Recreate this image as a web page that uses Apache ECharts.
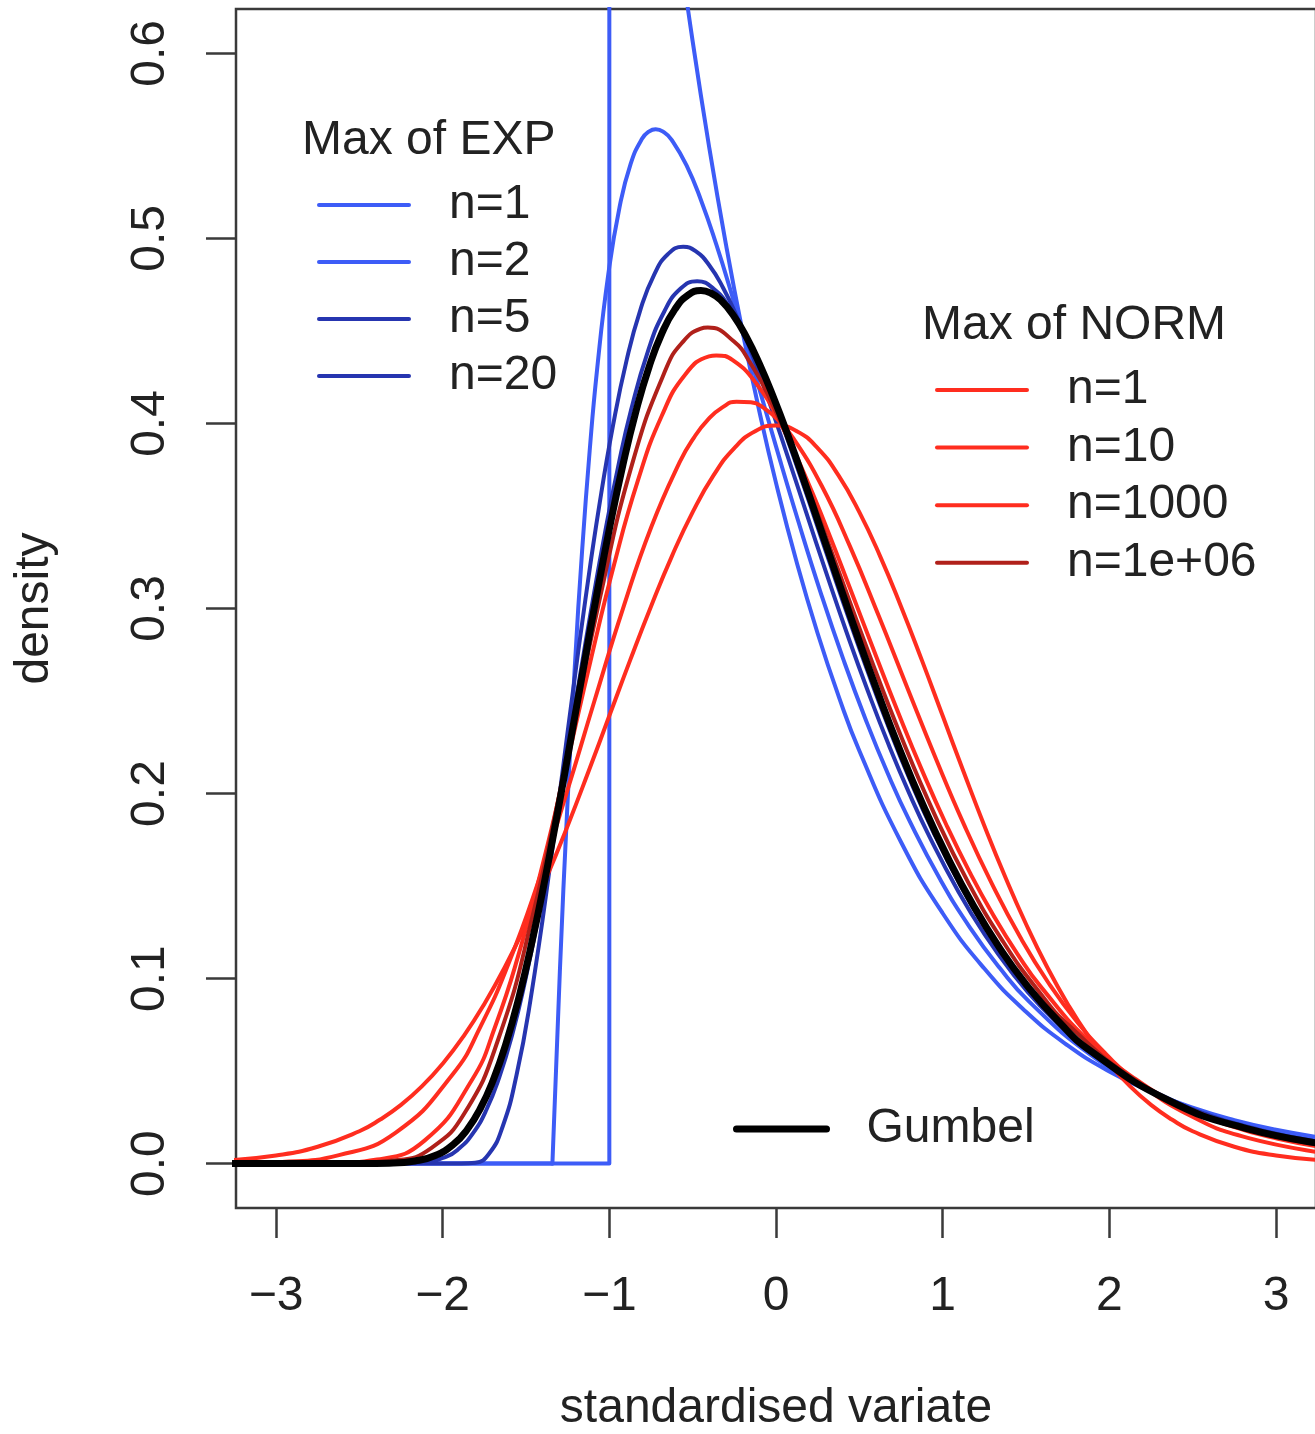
<!DOCTYPE html>
<html><head><meta charset="utf-8">
<script src="https://cdn.jsdelivr.net/npm/echarts@6/dist/echarts.min.js"></script>
<style>html,body{margin:0;padding:0;background:#fff}#c{width:1315px;height:1434px}</style>
</head><body><div id="c"></div>
<script>
// tick labels
const xTicks = [-3, -2, -1, 0, 1, 2, 3];
const yTicks = [0, 0.1, 0.2, 0.3, 0.4, 0.5, 0.6];

// Max of EXP (standardised densities) [z, density]
const expN1Base = [[-3.3, 0], [-1, 0], [-1, 1]];
const expN1 = [[-1,1],[-0.9,0.9048],[-0.8,0.8187],[-0.7,0.7408],[-0.6,0.6703],[-0.5,0.6065],[-0.4,0.5488],[-0.3,0.4966],[-0.2,0.4493],[-0.1,0.4066],[0,0.3679],[0.125,0.3247],[0.25,0.2865],[0.375,0.2528],[0.5,0.2231],[0.75,0.1738],[1,0.1353],[1.25,0.1054],[1.5,0.0821],[1.75,0.0639],[2,0.0498],[2.25,0.0388],[2.5,0.0302],[2.75,0.0235],[3,0.0183],[3.3,0.0136]];
const expN2Base = [[-3.3, 0], [-1.3416, 0]];
const expN2 = [[-1.3416,0],[-1.2969,0.1037],[-1.2522,0.1925],[-1.2075,0.2681],[-1.1628,0.3319],[-1.118,0.3852],[-1.0733,0.4293],[-1.0062,0.4806],[-0.9392,0.5167],[-0.8721,0.5403],[-0.805,0.5537],[-0.7603,0.5579],[-0.7218,0.559],[-0.6708,0.5573],[-0.6261,0.5533],[-0.5367,0.5395],[-0.4472,0.52],[-0.3578,0.4966],[-0.2683,0.4706],[-0.1342,0.4294],[0,0.3876],[0.1342,0.347],[0.2683,0.3085],[0.4025,0.2729],[0.5367,0.2403],[0.6708,0.2108],[0.805,0.1845],[0.9839,0.1538],[1.1628,0.1277],[1.3416,0.1058],[1.5205,0.0874],[1.8783,0.0594],[2.2361,0.0402],[2.6833,0.0246],[3.3094,0.0123]];
const expN5 = [[-3.3,0],[-1.8874,0],[-1.8047,0.0004],[-1.722,0.0053],[-1.6394,0.0202],[-1.5567,0.0479],[-1.4741,0.0879],[-1.3501,0.1648],[-1.2261,0.2499],[-1.1434,0.305],[-1.0608,0.3553],[-0.9781,0.3988],[-0.8955,0.4345],[-0.8128,0.4617],[-0.7301,0.4806],[-0.6475,0.4916],[-0.557,0.4955],[-0.4822,0.4931],[-0.3995,0.4854],[-0.3169,0.4732],[-0.2342,0.4576],[-0.1515,0.4393],[-0.0689,0.419],[0.0551,0.3863],[0.1791,0.3525],[0.3031,0.3188],[0.4271,0.2862],[0.5511,0.2554],[0.675,0.2266],[0.799,0.2002],[0.923,0.1763],[1.0883,0.148],[1.2537,0.1236],[1.419,0.1029],[1.5843,0.0854],[1.7909,0.0674],[1.9976,0.053],[2.2456,0.0397],[2.4935,0.0296],[2.9068,0.0181],[3.3201,0.011]];
const expN20 = [[-3.3,0],[-2.8477,0],[-2.3728,0],[-2.1353,0.0005],[-1.977,0.0038],[-1.8979,0.0084],[-1.8187,0.0163],[-1.7395,0.0287],[-1.6604,0.0466],[-1.5812,0.0702],[-1.5021,0.1],[-1.4229,0.1349],[-1.3438,0.174],[-1.2646,0.2158],[-1.1855,0.2586],[-1.1063,0.3007],[-1.0272,0.3404],[-0.948,0.3763],[-0.8689,0.4075],[-0.7699,0.4386],[-0.671,0.4604],[-0.5721,0.4729],[-0.4731,0.4768],[-0.3742,0.4728],[-0.2752,0.4622],[-0.1763,0.4462],[-0.0774,0.4261],[0.0216,0.403],[0.1205,0.3781],[0.2195,0.3521],[0.3184,0.3257],[0.4371,0.2945],[0.5559,0.2645],[0.6746,0.2361],[0.7933,0.2096],[0.9516,0.1777],[1.1099,0.1497],[1.2682,0.1255],[1.4265,0.1047],[1.6244,0.0831],[1.8223,0.0657],[2.0597,0.0493],[2.2972,0.0369],[2.8513,0.0186],[3.3262,0.0103]];

// Max of NORM
const normN1 = [[-3.3,0.0017],[-3,0.0044],[-2.75,0.0091],[-2.5,0.0175],[-2.375,0.0238],[-2.25,0.0317],[-2.125,0.0417],[-2,0.054],[-1.875,0.0688],[-1.75,0.0863],[-1.625,0.1065],[-1.5,0.1295],[-1.375,0.155],[-1.25,0.1826],[-1.125,0.2119],[-1,0.242],[-0.875,0.2721],[-0.75,0.3011],[-0.625,0.3282],[-0.5,0.3521],[-0.375,0.3719],[-0.25,0.3867],[-0.125,0.3958],[0,0.3989],[0.125,0.3958],[0.25,0.3867],[0.375,0.3719],[0.5,0.3521],[0.625,0.3282],[0.75,0.3011],[0.875,0.2721],[1,0.242],[1.125,0.2119],[1.25,0.1826],[1.375,0.155],[1.5,0.1295],[1.625,0.1065],[1.75,0.0863],[1.875,0.0688],[2,0.054],[2.125,0.0417],[2.25,0.0317],[2.375,0.0238],[2.5,0.0175],[2.75,0.0091],[3,0.0044],[3.3,0.0017]];
const normN10 = [[-3.3039,0.0001],[-2.9631,0.0009],[-2.6223,0.0046],[-2.2814,0.0168],[-1.9406,0.0482],[-1.7702,0.0746],[-1.5998,0.1092],[-1.4294,0.1514],[-1.259,0.1995],[-1.0886,0.2503],[-0.9181,0.2999],[-0.7477,0.3442],[-0.5773,0.3792],[-0.4921,0.3924],[-0.4069,0.4022],[-0.3217,0.4087],[-0.2365,0.4118],[-0.1513,0.4115],[-0.066,0.4079],[0.0192,0.4013],[0.1043,0.392],[0.2748,0.3662],[0.4452,0.3333],[0.6156,0.2962],[0.786,0.2576],[0.9564,0.2195],[1.1268,0.1835],[1.2973,0.1509],[1.4676,0.122],[1.6381,0.0972],[1.8085,0.0764],[1.9789,0.0593],[2.1493,0.0454],[2.4901,0.0257],[2.8309,0.0139],[3.3422,0.0051]];
const normN1000 = [[-3.389,0],[-2.9625,0],[-2.678,0.0002],[-2.3935,0.0022],[-2.109,0.0124],[-1.8245,0.0452],[-1.6822,0.0748],[-1.54,0.1144],[-1.3977,0.1624],[-1.2555,0.2161],[-1.1133,0.2715],[-0.971,0.3239],[-0.8288,0.3691],[-0.6865,0.4039],[-0.5443,0.4265],[-0.402,0.4363],[-0.3585,0.4368],[-0.2598,0.4342],[-0.1175,0.4215],[0.0248,0.4005],[0.167,0.3734],[0.3092,0.3423],[0.4515,0.3092],[0.5937,0.2758],[0.736,0.2431],[0.8782,0.2121],[1.0205,0.1834],[1.1627,0.1574],[1.305,0.1341],[1.447,0.1135],[1.5895,0.0955],[1.874,0.0665],[2.1585,0.0456],[2.443,0.0307],[2.7275,0.0204],[3.012,0.0134],[3.2966,0.0087]];
const normN1e6 = [[-3.3,0],[-3.0762,0],[-2.673,0],[-2.2698,0.0019],[-2.0665,0.0085],[-1.8665,0.0276],[-1.6649,0.0676],[-1.4633,0.1327],[-1.2617,0.2162],[-1.0601,0.3041],[-0.8585,0.3795],[-0.6569,0.4302],[-0.556,0.4444],[-0.4552,0.4511],[-0.4093,0.4518],[-0.2536,0.4444],[-0.1528,0.4325],[-0.052,0.4163],[0.1496,0.3746],[0.3512,0.3262],[0.5528,0.2768],[0.7544,0.23],[0.956,0.1878],[1.1577,0.1512],[1.3593,0.1204],[1.5609,0.0949],[1.7625,0.0742],[2.1657,0.0446],[2.569,0.0262],[2.9722,0.0152],[3.3754,0.0087]];

// Gumbel
const gumbel = [[-3.335,0],[-2.4773,0],[-2.3213,0.0002],[-2.1654,0.0014],[-2.0484,0.0042],[-1.9315,0.0107],[-1.8535,0.0183],[-1.7755,0.0295],[-1.6976,0.0449],[-1.6196,0.065],[-1.5416,0.0901],[-1.4637,0.12],[-1.3857,0.1539],[-1.3077,0.191],[-1.2298,0.2301],[-1.1518,0.2696],[-1.0738,0.3083],[-0.9958,0.3448],[-0.9179,0.3779],[-0.8399,0.4067],[-0.7619,0.4305],[-0.684,0.4489],[-0.606,0.4618],[-0.528,0.4694],[-0.4501,0.4718],[-0.3916,0.4705],[-0.3331,0.4668],[-0.2551,0.4584],[-0.1772,0.4467],[-0.0992,0.4322],[-0.0212,0.4155],[0.0762,0.3925],[0.1737,0.3677],[0.2712,0.3421],[0.3686,0.3163],[0.4856,0.2858],[0.6025,0.2566],[0.739,0.2245],[0.8754,0.1952],[1.0314,0.1652],[1.1873,0.1389],[1.3433,0.1163],[1.4992,0.097],[1.6941,0.0769],[1.889,0.0608],[2.3569,0.0341],[2.8247,0.0189],[3.3705,0.0095]];

const FONT = '"Liberation Sans", Arial, Helvetica, sans-serif';
const TXT = '#222';
const BLUE = '#3d5cf7', NAVY = '#2635b0', RED = '#ff2d1f', DARKRED = '#b0201a';
const LW = 4;
const FS = 48;

function line(name, data, color, width, smooth) {
  return { type: 'line', name: name, data: data, smooth: smooth, smoothConstraint: false, symbol: 'none', showSymbol: false,
    lineStyle: { color: color, width: width, join: 'round', cap: 'round' }, itemStyle: { color: color }, clip: true, silent: true };
}

const legendCommon = {
  orient: 'vertical', itemWidth: 90, itemHeight: 46, itemGap: 9, padding: 0, selectedMode: false,
  itemStyle: { opacity: 0 },
  lineStyle: { width: LW },
  textStyle: { fontSize: FS, fontFamily: FONT, color: TXT, padding: [0, 0, 0, 35] },
  formatter: function (n) { return n.replace(/^\S+\s/, ''); }
};

const chart = echarts.init(document.getElementById('c'), null, { renderer: 'canvas' });
chart.setOption({
  animation: false,
  backgroundColor: '#fff',
  textStyle: { fontFamily: FONT },
  title: [
    { text: 'Max of EXP', left: 302, top: 117, padding: 0, textStyle: { fontSize: FS, fontWeight: 'normal', color: TXT, fontFamily: FONT } },
    { text: 'Max of NORM', left: 922, top: 302, padding: 0, textStyle: { fontSize: FS, fontWeight: 'normal', color: TXT, fontFamily: FONT } }
  ],
  legend: [
    Object.assign({}, legendCommon, { data: ['EXP n=1', 'EXP n=2', 'EXP n=5', 'EXP n=20'], left: 317, top: 181 }),
    Object.assign({}, legendCommon, { data: ['NORM n=1', 'NORM n=10', 'NORM n=1000', 'NORM n=1e+06'], left: 935, top: 366, itemGap: 9.6 }),
    Object.assign({}, legendCommon, { data: ['Gumbel'], left: 733, top: 1105, lineStyle: { width: 7 } })
  ],
  grid: { left: 236, top: 9, width: 1080, height: 1199, show: true, borderColor: '#3a3a3a', borderWidth: 2.5,
    containLabel: false, outerBoundsMode: 'none' },
  xAxis: {
    type: 'value', min: -3.24, max: 3.24,
    name: 'standardised variate', nameLocation: 'middle', nameGap: 177,
    nameTextStyle: { fontSize: FS, color: TXT, fontFamily: FONT },
    axisLine: { show: false, onZero: false },
    axisTick: { show: true, length: 30, inside: false, customValues: xTicks, lineStyle: { color: '#3a3a3a', width: 2.5 } },
    axisLabel: { customValues: xTicks, fontSize: FS, color: TXT, fontFamily: FONT, margin: 65,
      formatter: function (v) { return v < 0 ? '\u2212' + Math.abs(v) : String(v); } },
    splitLine: { show: false }
  },
  yAxis: {
    type: 'value', min: -0.024, max: 0.624,
    name: 'density', nameLocation: 'middle', nameGap: 177, nameRotate: 90,
    nameTextStyle: { fontSize: FS, color: TXT, fontFamily: FONT },
    axisLine: { show: false, onZero: false },
    axisTick: { show: true, length: 30, inside: false, customValues: yTicks, lineStyle: { color: '#3a3a3a', width: 2.5 } },
    axisLabel: { customValues: yTicks, fontSize: FS, color: TXT, fontFamily: FONT, margin: 61, rotate: 90,
      formatter: function (v) { return v.toFixed(1); } },
    splitLine: { show: false }
  },
  series: [
    line('EXP n=1 base', expN1Base, BLUE, LW, false),
    line('EXP n=1', expN1, BLUE, LW, 0.5),
    line('EXP n=2 base', expN2Base, BLUE, LW, false),
    line('EXP n=2', expN2, BLUE, LW, 0.5),
    line('EXP n=5', expN5, NAVY, LW, 0.5),
    line('EXP n=20', expN20, NAVY, LW, 0.5),
    line('NORM n=1', normN1, RED, LW, 0.5),
    line('NORM n=10', normN10, RED, LW, 0.5),
    line('NORM n=1000', normN1000, RED, LW, 0.5),
    line('NORM n=1e+06', normN1e6, DARKRED, LW, 0.5),
    line('Gumbel', gumbel, '#000', 7, 0.5)
  ]
});
</script></body></html>
